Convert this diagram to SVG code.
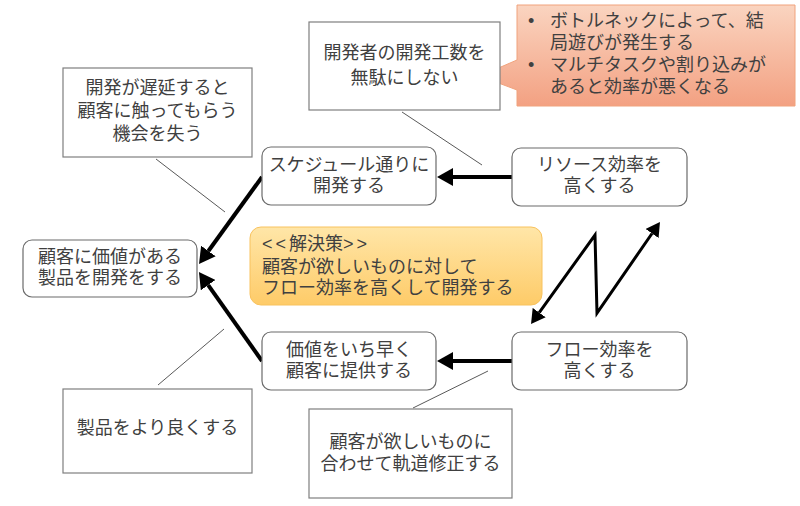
<svg xmlns="http://www.w3.org/2000/svg" width="800" height="506" viewBox="0 0 800 506">
<style>
text{font-family:"Liberation Sans","Noto Sans CJK JP",sans-serif;font-size:18px;fill:#404040}
.c{text-anchor:middle}
.box{fill:#fff;stroke:#7f7f7f;stroke-width:1.2}
.node{fill:#fff;stroke:#6b6b6b;stroke-width:1.2}
.thin{stroke:#595959;stroke-width:1;fill:none}
.thick{stroke:#000;stroke-width:4;fill:none}
.z{stroke:#000;stroke-width:3;fill:none;stroke-linejoin:miter}
</style>
<defs>
<linearGradient id="gOr" x1="0" y1="0" x2="0" y2="1"><stop offset="0" stop-color="#fad4c0"/><stop offset="1" stop-color="#f3a182"/></linearGradient>
<linearGradient id="gYe" x1="0" y1="0" x2="0" y2="1"><stop offset="0" stop-color="#ffe6a8"/><stop offset="1" stop-color="#fecb68"/></linearGradient>
<marker id="ah" viewBox="0 0 16 18" refX="0" refY="9" markerWidth="16" markerHeight="18" markerUnits="userSpaceOnUse" orient="auto"><path d="M0,0 L16,9 L0,18 Z" fill="#000"/></marker>
<marker id="az" viewBox="0 0 14 16" refX="0" refY="8" markerWidth="14" markerHeight="16" markerUnits="userSpaceOnUse" orient="auto-start-reverse"><path d="M0,0 L14,8 L0,16 Z" fill="#000"/></marker>
</defs>

<g id="connectors">
<line class="thin" x1="402" y1="112" x2="482" y2="165"/>
<line class="thin" x1="156" y1="159" x2="225" y2="212"/>
<line class="thin" x1="158" y1="385" x2="224" y2="329"/>
<line class="thin" x1="488" y1="371" x2="413" y2="408"/>
<line class="thick" x1="512" y1="177" x2="453" y2="177" marker-end="url(#ah)"/>
<line class="thick" x1="512" y1="361" x2="453" y2="361" marker-end="url(#ah)"/>
<line class="thick" x1="262" y1="177" x2="208.4" y2="251" marker-end="url(#ah)"/>
<line class="thick" x1="262" y1="361" x2="208.2" y2="285.1" marker-end="url(#ah)"/>
<path class="z" d="M539.2,312.6 L595,235 L597,313 L652,233.5" marker-start="url(#az)" marker-end="url(#az)"/>
</g>

<g id="callout">
<path d="M517,5 H795 V106 H517 V90 L480,76 L517,60 Z" fill="url(#gOr)" stroke="#f0a27c" stroke-width="1"/>
<text><tspan x="528" y="27">•</tspan><tspan x="550" y="27">ボトルネックによって、結</tspan><tspan x="550" y="49">局遊びが発生する</tspan><tspan x="528" y="71">•</tspan><tspan x="550" y="71">マルチタスクや割り込みが</tspan><tspan x="550" y="93">あると効率が悪くなる</tspan></text>
</g>

<g id="box-effort">
<rect class="box" x="309" y="22" width="191" height="88"/>
<text class="c"><tspan x="404.5" y="59">開発者の開発工数を</tspan><tspan x="404.5" y="84">無駄にしない</tspan></text>
</g>

<g id="box-delay">
<rect class="box" x="63" y="68" width="189" height="89"/>
<text class="c"><tspan x="157.5" y="94">開発が遅延すると</tspan><tspan x="157.5" y="117">顧客に触ってもらう</tspan><tspan x="157.5" y="140">機会を失う</tspan></text>
</g>

<g id="node-main">
<rect class="node" x="23" y="240" width="174" height="57" rx="9"/>
<text class="c"><tspan x="110" y="263">顧客に価値がある</tspan><tspan x="110" y="284">製品を開発をする</tspan></text>
</g>

<g id="node-schedule">
<rect class="node" x="262" y="147" width="174" height="58" rx="9"/>
<text class="c"><tspan x="349" y="171">スケジュール通りに</tspan><tspan x="349" y="192">開発する</tspan></text>
</g>

<g id="node-resource">
<rect class="node" x="512" y="148" width="175" height="58" rx="9"/>
<text class="c"><tspan x="599.5" y="171">リソース効率を</tspan><tspan x="599.5" y="192">高くする</tspan></text>
</g>

<g id="solution">
<rect x="250" y="227" width="292" height="78" rx="11" fill="url(#gYe)" stroke="#f8c25e" stroke-width="1"/>
<text><tspan x="262" y="250" letter-spacing="3">&lt;&lt;</tspan><tspan letter-spacing="0">解決策</tspan><tspan letter-spacing="3">&gt;&gt;</tspan><tspan x="262" y="273" letter-spacing="0">顧客が欲しいものに対して</tspan><tspan x="262" y="294" letter-spacing="0">フロー効率を高くして開発する</tspan></text>
</g>

<g id="node-value">
<rect class="node" x="262" y="332" width="174" height="58" rx="9"/>
<text class="c"><tspan x="349" y="356">価値をいち早く</tspan><tspan x="349" y="377">顧客に提供する</tspan></text>
</g>

<g id="node-flow">
<rect class="node" x="512" y="332" width="175" height="58" rx="9"/>
<text class="c"><tspan x="599.5" y="356">フロー効率を</tspan><tspan x="599.5" y="377">高くする</tspan></text>
</g>

<g id="box-course">
<rect class="box" x="309" y="409" width="203" height="89"/>
<text class="c"><tspan x="410.5" y="448">顧客が欲しいものに</tspan><tspan x="410.5" y="470">合わせて軌道修正する</tspan></text>
</g>

<g id="box-better">
<rect class="box" x="63" y="389" width="189" height="84"/>
<text class="c" x="157.5" y="434">製品をより良くする</text>
</g>
</svg>
